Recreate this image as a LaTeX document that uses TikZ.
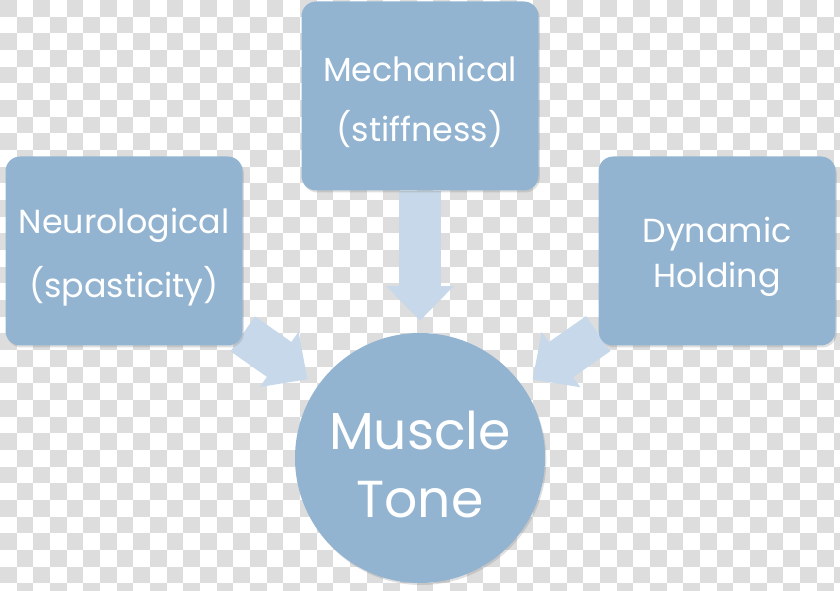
\documentclass[tikz,border=0pt]{standalone}
\usepackage{fontspec}
\setmainfont{Poppins}
\usepackage{xcolor}
\usetikzlibrary{arrows.meta,positioning,shadows}
\definecolor{boxblue}{RGB}{147,180,209}
\definecolor{arrowblue}{RGB}{198,216,233}
\definecolor{checkgrey}{RGB}{221,221,221}
\pgfdeclarelayer{back}
\pgfsetlayers{back,main}

\begin{document}
\begin{tikzpicture}[x=0.75pt, y=-0.75pt,
  cause/.style={fill=boxblue, rounded corners=11pt, minimum width=177.75pt, minimum height=141.75pt, text=white, align=center, drop shadow={shadow xshift=1pt, shadow yshift=-1.5pt, opacity=0.25}},
  tone/.style={circle, fill=boxblue, minimum size=187.5pt, text=white, align=center, drop shadow={shadow xshift=1pt, shadow yshift=-1.5pt, opacity=0.25}},
  push/.style={draw=arrowblue, line width=32pt, -{Triangle[length=26pt, width=49pt]}, shorten >=9pt}
]
\useasboundingbox (0,0) rectangle (840,591);

\node [cause, font=\fontsize{25}{48}\selectfont, text height=76pt] (neuro) at (124,251) {Neurological\\(spasticity)};
\node [cause, font=\fontsize{25}{45}\selectfont, text height=73pt] (mech) at (420,96) {Mechanical\\(stiffness)};
\node [cause, font=\fontsize{25}{34}\selectfont, text height=62pt] (dyn) at (717,251) {Dynamic\\Holding};
\node [tone, font=\fontsize{39}{51}\selectfont, text height=90pt] (mtone) at (420,458) {Muscle\\Tone};

\begin{pgfonlayer}{back}
\clip (0,0) rectangle (840,591);
\foreach \i in {0,...,50} {
  \foreach \j in {0,...,35} {
    \pgfmathtruncatemacro{\cellpar}{mod(\i+\j,2)}
    \ifnum\cellpar=0
      \fill [checkgrey] (\i*16.67,\j*16.67) rectangle ++(16.67,16.67);
    \fi
  }
}
\draw [push] (neuro) -- (mtone);
\draw [push] (mech) -- (mtone);
\draw [push] (dyn) -- (mtone);
\end{pgfonlayer}
\end{tikzpicture}
\end{document}
